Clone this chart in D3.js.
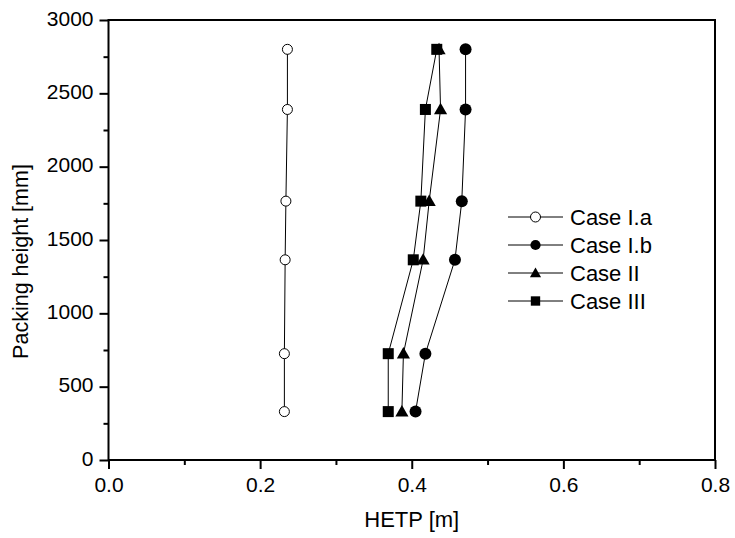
<!DOCTYPE html>
<html><head><meta charset="utf-8">
<script src="https://cdn.jsdelivr.net/npm/d3@7"></script>
<style>body{margin:0;background:#fff}svg{display:block}text{font-family:"Liberation Sans",Arial,sans-serif;fill:#000}</style>
</head><body><svg id="c" width="735" height="538"></svg>
<script>
const heights = [330, 725, 1365, 1765, 2390, 2800];
const caseIa = [0.232, 0.232, 0.233, 0.234, 0.236, 0.236];
const caseIb = [0.405, 0.418, 0.457, 0.466, 0.471, 0.471];
const caseII = [0.387, 0.389, 0.415, 0.423, 0.438, 0.436];
const caseIII = [0.369, 0.369, 0.402, 0.412, 0.418, 0.433];
const seriesNames = ["Case I.a", "Case I.b", "Case II", "Case III"];
const seriesSymbols = ["open", "circle", "triangle", "square"];
const xTicks = [0, 0.2, 0.4, 0.6, 0.8];
const yTicks = [0, 500, 1000, 1500, 2000, 2500, 3000];

const svg = d3.select("#c");
const L = 108.5, R = 715, T = 20, B = 460;
const x = d3.scaleLinear().domain([0, 0.8]).range([L, R]);
const y = d3.scaleLinear().domain([0, 3000]).range([B, T]);
const FONT = '"Liberation Sans",Arial,sans-serif';

// frame
svg.append("rect").attr("x", L).attr("y", T).attr("width", R - L).attr("height", B - T)
  .attr("fill", "none").attr("stroke", "#000").attr("stroke-width", 2);

// x axis
const xa = svg.append("g").attr("transform", `translate(0,${B})`)
  .call(d3.axisBottom(x).tickValues(xTicks).tickFormat(d3.format(".1f")).tickSize(9).tickPadding(8));
const xm = svg.append("g").attr("transform", `translate(0,${B})`)
  .call(d3.axisBottom(x).tickValues([0.1, 0.3, 0.5, 0.7]).tickFormat("").tickSize(5));
// y axis
const ya = svg.append("g").attr("transform", `translate(${L},0)`)
  .call(d3.axisLeft(y).tickValues(yTicks).tickFormat(d3.format("d")).tickSize(9).tickPadding(6));
const ym = svg.append("g").attr("transform", `translate(${L},0)`)
  .call(d3.axisLeft(y).tickValues([250, 750, 1250, 1750, 2250, 2750]).tickFormat("").tickSize(5));
[xa, xm, ya, ym].forEach(g => {
  g.select(".domain").remove();
  g.selectAll("line").attr("stroke", "#000").attr("stroke-width", 2);
  g.selectAll("text").attr("font-size", 21).attr("font-family", FONT).attr("fill", "#000");
});
ya.selectAll("text").attr("dy", "0.25em");

// titles
svg.append("text").attr("x", (L + R) / 2).attr("y", 527).attr("text-anchor", "middle")
  .attr("font-size", 22).text("HETP [m]");
svg.append("text").attr("transform", `translate(28,261.5) rotate(-90)`).attr("text-anchor", "middle")
  .attr("font-size", 21.5).text("Packing height [mm]");

const data = [caseIa, caseIb, caseII, caseIII];
const line = d3.line().x(d => x(d[0])).y(d => y(d[1]));

function marker(g, type, cx, cy, s) {
  if (type === "open") {
    g.append("circle").attr("cx", cx).attr("cy", cy).attr("r", 5 * s).attr("fill", "#fff").attr("stroke", "#000").attr("stroke-width", 1);
  } else if (type === "circle") {
    g.append("circle").attr("cx", cx).attr("cy", cy).attr("r", 6 * s).attr("fill", "#000");
  } else if (type === "triangle") {
    const sym = d3.symbol().type(d3.symbolTriangle).size(75 * s * s);
    g.append("path").attr("d", sym()).attr("transform", `translate(${cx},${cy + 1})`).attr("fill", "#000");
  } else {
    const a = 11 * s;
    g.append("rect").attr("x", cx - a / 2).attr("y", cy - a / 2).attr("width", a).attr("height", a).attr("fill", "#000");
  }
}

data.forEach((vals, i) => {
  const pts = vals.map((v, j) => [v, heights[j]]);
  svg.append("path").attr("d", line(pts)).attr("fill", "none").attr("stroke", "#000").attr("stroke-width", 1);
});
data.forEach((vals, i) => {
  const g = svg.append("g");
  vals.forEach((v, j) => marker(g, seriesSymbols[i], x(v), y(heights[j]), 1));
});

// legend
const lg = svg.append("g");
const ly = [217, 245, 273, 301];
seriesNames.forEach((n, i) => {
  lg.append("line").attr("x1", 508).attr("x2", 563).attr("y1", ly[i]).attr("y2", ly[i]).attr("stroke", "#000").attr("stroke-width", 1);
  marker(lg, seriesSymbols[i], 535.5, ly[i], i === 0 ? 1 : 0.85);
  lg.append("text").attr("x", 570).attr("y", ly[i] + 8).attr("font-size", 22).text(n);
});
</script></body></html>
